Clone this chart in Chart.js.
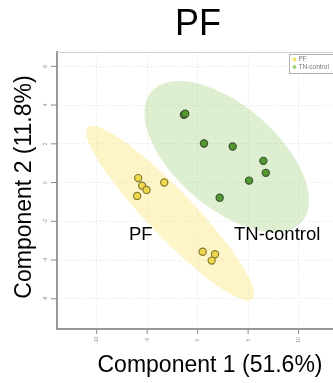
<!DOCTYPE html>
<html>
<head>
<meta charset="utf-8">
<script src="https://cdn.jsdelivr.net/npm/chart.js@4"></script>
<style>
  body { margin: 0; overflow: hidden; background: #fff; }
  #wrap { width: 345px; height: 383px; }
</style>
</head>
<body>
<div id="wrap"><canvas id="pcaChart" width="345" height="383"></canvas></div>
<script>
// groups and scores
const groups = ["PF", "TN-control"];
const pfX = [-5.89, -5.50, -5.06, -5.99, -3.31, 0.50, 1.72, 1.39];
const pfY = [0.23, -0.16, -0.38, -0.69, 0.00, -3.57, -3.70, -4.03];
const tnX = [-1.36, -1.23, 0.63, 3.47, 6.51, 6.75, 5.09, 2.18];
const tnY = [3.50, 3.55, 2.02, 1.86, 1.12, 0.50, 0.10, -0.78];
const xTicks = [-10, -5, 0, 5, 10];
const yTicks = [-6, -4, -2, 0, 2, 4, 6];
// confidence ellipses: centre, major half-axis, minor half-axis (data units)
const pfEllipse = [[-2.72, -1.58], [8.15, -4.43], [1.65, 0.83]];
const tnEllipse = [[2.88, 1.34], [7.45, -3.36], [3.31, 1.99]];

const fillCols = ["#efd94a", "#54992f"];
const edgeCols = ["#857a35", "#3a5530"];
const shadeCols = ["rgba(250,230,110,0.38)", "rgba(150,205,110,0.32)"];

function toPts(xs, ys) {
    return xs.map((x, i) => ({ x: x, y: ys[i] }));
}

const decor = {
    id: 'decor',
    beforeDatasetsDraw(chart) {
        const ctx = chart.ctx;
        const xs = chart.scales.x, ys = chart.scales.y;
        [pfEllipse, tnEllipse].forEach((e, i) => {
            const c = e[0], u = e[1], v = e[2];
            const cx = xs.getPixelForValue(c[0]), cy = ys.getPixelForValue(c[1]);
            const ux = xs.getPixelForValue(c[0] + u[0]) - cx, uy = ys.getPixelForValue(c[1] + u[1]) - cy;
            const vx = xs.getPixelForValue(c[0] + v[0]) - cx, vy = ys.getPixelForValue(c[1] + v[1]) - cy;
            ctx.save();
            ctx.beginPath();
            ctx.transform(ux, uy, vx, vy, cx, cy);
            ctx.arc(0, 0, 1, 0, Math.PI * 2);
            ctx.restore();
            ctx.fillStyle = shadeCols[i];
            ctx.fill();
        });
    },
    afterDraw(chart) {
        const ctx = chart.ctx;
        const a = chart.chartArea;
        const xs = chart.scales.x, ys = chart.scales.y;
        ctx.save();
        // light top/right frame
        ctx.strokeStyle = "#d0d0d0";
        ctx.lineWidth = 1;
        ctx.beginPath();
        ctx.moveTo(a.left, a.top + 0.5);
        ctx.lineTo(a.right, a.top + 0.5);
        ctx.lineTo(a.right - 0.5, a.bottom);
        ctx.stroke();
        // tick marks + tiny rotated labels
        ctx.strokeStyle = "#8a8a8a";
        ctx.fillStyle = "#8a8a8a";
        ctx.font = "5px 'Liberation Sans'";
        ctx.textAlign = "center";
        ctx.textBaseline = "middle";
        yTicks.forEach(t => {
            const py = ys.getPixelForValue(t);
            ctx.beginPath();
            ctx.moveTo(a.left - 6, py);
            ctx.lineTo(a.left, py);
            ctx.stroke();
            ctx.save();
            ctx.translate(a.left - 11, py);
            ctx.rotate(-Math.PI / 2);
            ctx.fillText(String(t), 0, 0);
            ctx.restore();
        });
        xTicks.forEach(t => {
            const px = xs.getPixelForValue(t);
            ctx.beginPath();
            ctx.moveTo(px, a.bottom);
            ctx.lineTo(px, a.bottom + 5);
            ctx.stroke();
            ctx.save();
            ctx.translate(px, a.bottom + 11);
            ctx.rotate(-Math.PI / 2);
            ctx.fillText(String(t), 0, 0);
            ctx.restore();
        });
        // group labels inside the plot
        ctx.fillStyle = "#000";
        ctx.font = "18.5px 'Liberation Sans'";
        ctx.textAlign = "left";
        ctx.textBaseline = "alphabetic";
        ctx.fillText(groups[0], 129, 240);
        ctx.fillText(groups[1], 234, 240);
        // legend box
        ctx.fillStyle = "#fff";
        ctx.fillRect(289.5, 54.5, 50, 19);
        ctx.strokeStyle = "#b0b0b0";
        ctx.strokeRect(289.5, 54.5, 50, 19);
        ctx.font = "6.5px 'Liberation Sans'";
        ctx.textBaseline = "middle";
        groups.forEach((g, i) => {
            const yy = 59.5 + i * 7.5;
            ctx.beginPath();
            ctx.arc(294.5, yy, 2, 0, Math.PI * 2);
            ctx.fillStyle = i === 0 ? "#f6e36a" : "#9fd07a";
            ctx.fill();
            ctx.fillStyle = "#777";
            ctx.fillText(g, 298.5, yy);
        });
        // titles
        ctx.fillStyle = "#000";
        ctx.textAlign = "center";
        ctx.textBaseline = "alphabetic";
        ctx.font = "36px 'Liberation Sans'";
        ctx.fillText("PF", 198, 35);
        ctx.font = "23px 'Liberation Sans'";
        ctx.fillText("Component 1 (51.6%)", 210, 371.5);
        ctx.save();
        ctx.translate(31, 187);
        ctx.rotate(-Math.PI / 2);
        ctx.fillText("Component 2 (11.8%)", 0, 0);
        ctx.restore();
        ctx.restore();
    }
};

document.addEventListener("DOMContentLoaded", function() {
    let ctx = document.getElementById('pcaChart').getContext('2d');
    new Chart(ctx, {
        type: 'scatter',
        data: {
            datasets: [{
                label: groups[0],
                data: toPts(pfX, pfY),
                backgroundColor: fillCols[0],
                borderColor: edgeCols[0],
                borderWidth: 1.2,
                pointRadius: 3.6
            }, {
                label: groups[1],
                data: toPts(tnX, tnY),
                backgroundColor: fillCols[1],
                borderColor: edgeCols[1],
                borderWidth: 1.2,
                pointRadius: 3.6
            }]
        },
        options: {
            responsive: false,
            animation: false,
            layout: { padding: { left: 57, top: 52, right: 6, bottom: 54 } },
            plugins: { legend: { display: false }, tooltip: { enabled: false } },
            scales: {
                x: {
                    type: 'linear', min: -13.93, max: 14,
                    afterBuildTicks: s => { s.ticks = xTicks.map(v => ({ value: v })); },
                    ticks: { display: false },
                    grid: { color: "#e4e4e4", drawTicks: false },
                    border: { color: "#9a9a9a", width: 2, dash: [1, 2] }
                },
                y: {
                    type: 'linear', min: -7.56, max: 6.74,
                    afterBuildTicks: s => { s.ticks = yTicks.map(v => ({ value: v })); },
                    ticks: { display: false },
                    grid: { color: "#e4e4e4", drawTicks: false },
                    border: { color: "#9a9a9a", width: 2, dash: [1, 2] }
                }
            }
        },
        plugins: [decor]
    });
});
</script>
</body>
</html>
